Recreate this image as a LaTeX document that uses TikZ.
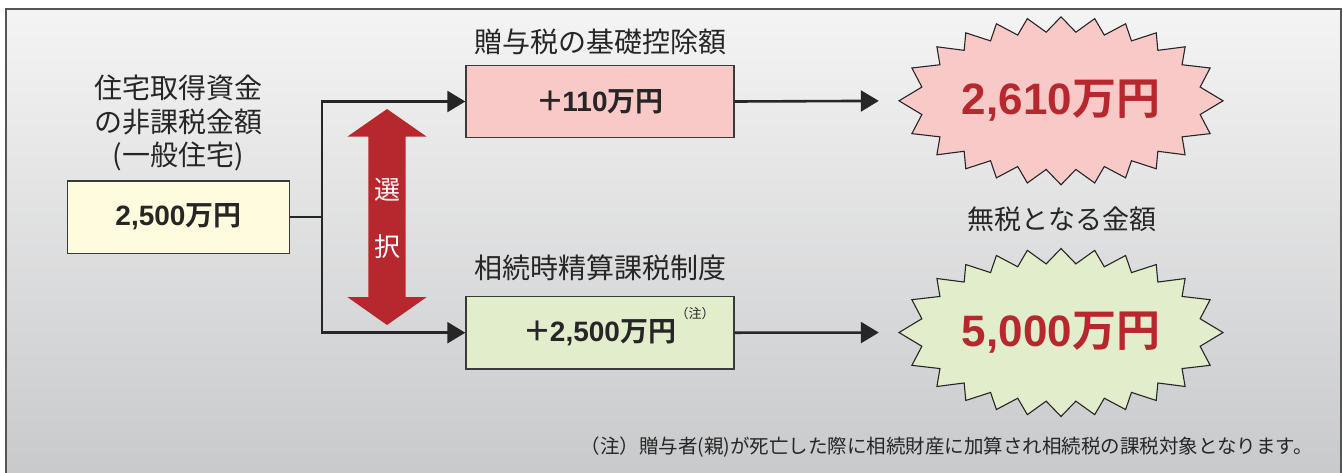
\documentclass[tikz,border=0pt]{standalone}
\usepackage{fontspec}
\newfontfamily\jp{Noto Sans CJK JP}[BoldFont={Noto Sans CJK JP Bold}]
\newfontfamily\lat{Liberation Sans}
\usetikzlibrary{arrows.meta}
\definecolor{framec}{HTML}{555555}
\definecolor{bgtop}{HTML}{F4F4F4}
\definecolor{bgbot}{HTML}{C8C9CB}
\definecolor{ybox}{HTML}{FFFBDF}
\definecolor{pbox}{HTML}{F9C9C8}
\definecolor{gbox}{HTML}{E1EDCB}
\definecolor{jred}{HTML}{B7282E}
\definecolor{txt}{HTML}{262626}
\definecolor{boxline}{HTML}{3A3A3A}
\newcommand\amount[2]{{\jp\bfseries #1}{\lat\bfseries #2}{\jp\bfseries 万円}}
\newcommand\plussign{{\jp\bfseries ＋}\kern-2pt}
\newcommand\burstshape[3]{%
  \filldraw[burstline,fill=#3] ({#1+162},{#2})
  \foreach \m/\n in {11.5/23,31.5/40,47/54,60.25/66.5,72.25/78,84/90,96/102,107.75/113.5,119.75/126,133/140,148.5/157,168.5/180,191.5/203,211.5/220,227/234,240.25/246.5,252.25/258,264/270,276/282,287.75/293.5,299.75/306,313/320,328.5/337}
  { -- ({#1+142*cos(\m)},{#2-69*sin(\m)}) -- ({#1+162*cos(\n)},{#2-84*sin(\n)}) }
  -- ({#1+142*cos(348.5)},{#2-69*sin(348.5)}) -- cycle;}
\tikzset{
  burstline/.style={draw=black!85, line width=1.1pt, line join=miter},
  box/.style={draw=boxline, line width=1.4pt, inner sep=0pt, minimum width=268pt, minimum height=72.4pt, font=\fontsize{28}{30}\selectfont, text=txt},
  conn/.style={line width=2.6pt, draw=txt, -{Triangle[length=18pt,width=21pt]}},
  lbl/.style={font=\jp\fontsize{28}{33.5}\selectfont, text=txt, inner sep=0pt},
  sel/.style={font=\jp\fontsize{26}{28}\selectfont, text=white, inner sep=0pt},
  big/.style={font=\fontsize{44}{46}\selectfont, text=jred, inner sep=0pt, minimum width=324pt, minimum height=168pt}
}
\begin{document}
\begin{tikzpicture}[x=1pt,y=-1pt]
\useasboundingbox (0,0) rectangle (1343,472);
\clip (0,0) rectangle (1343,472);
\fill[white] (0,0) rectangle (1343,472);
\shade[top color=bgtop, bottom color=bgbot] (5.5,9) rectangle (1340.5,480);
\draw[framec, line width=2pt] (5.5,480) -- (5.5,9) -- (1340.5,9) -- (1340.5,480);

% labels
\node[lbl, align=center] (la) at (178,123) {住宅取得資金\\の非課税金額\\(一般住宅)};
\node[lbl] (lb1) at (600,41.7) {贈与税の基礎控除額};
\node[lbl] (lb2) at (600,268) {相続時精算課税制度};
\node[lbl, font=\jp\fontsize{27}{30}\selectfont] (ls) at (1062,219) {無税となる金額};

% boxes
\node[box, fill=ybox, minimum width=221.6pt] (a) at (178.5,217) {\amount{}{2,500}};
\node[box, fill=pbox] (b1) at (600,101.5) {\amount{\plussign}{110}};
\node[box, fill=gbox] (b2) at (600,332.7) {\amount{\plussign}{2,500}};
\node[font=\jp\fontsize{13}{14}\selectfont, text=txt, inner sep=0pt] (n2) at (695,314) {（注）};

% connectors
\draw[conn] (a.east) -- ++(32,0) coordinate (j) |- (b1.west);
\draw[conn] (j) |- (b2.west);

% red double arrow
\fill[jred] (387,109) -- (426.7,136.7) -- (405.7,136.7) -- (405.7,297) -- (426.7,297)
  -- (387,325) -- (347.3,297) -- (368.3,297) -- (368.3,136.7) -- (347.3,136.7) -- cycle;
\node[sel] (c1) at (387,190) {選};
\node[sel] (c2) at (387,247) {択};

% starbursts
\burstshape{1061}{100.8}{pbox}
\burstshape{1061}{332.5}{gbox}
\node[big] (s1) at (1061,100.8) {\amount{}{2,610}};
\node[big] (s2) at (1061,332.5) {\amount{}{5,000}};
\draw[conn, shorten >=20pt] (b1.east) -- (s1.west);
\draw[conn, shorten >=20pt] (b2.east) -- (s2.west);

% footnote
\node[anchor=east, font=\jp\fontsize{19.5}{21}\selectfont, text=txt, inner sep=0pt] (fn) at (1313,447) {（注）贈与者(親)が死亡した際に相続財産に加算され相続税の課税対象となります。};
\end{tikzpicture}
\end{document}
